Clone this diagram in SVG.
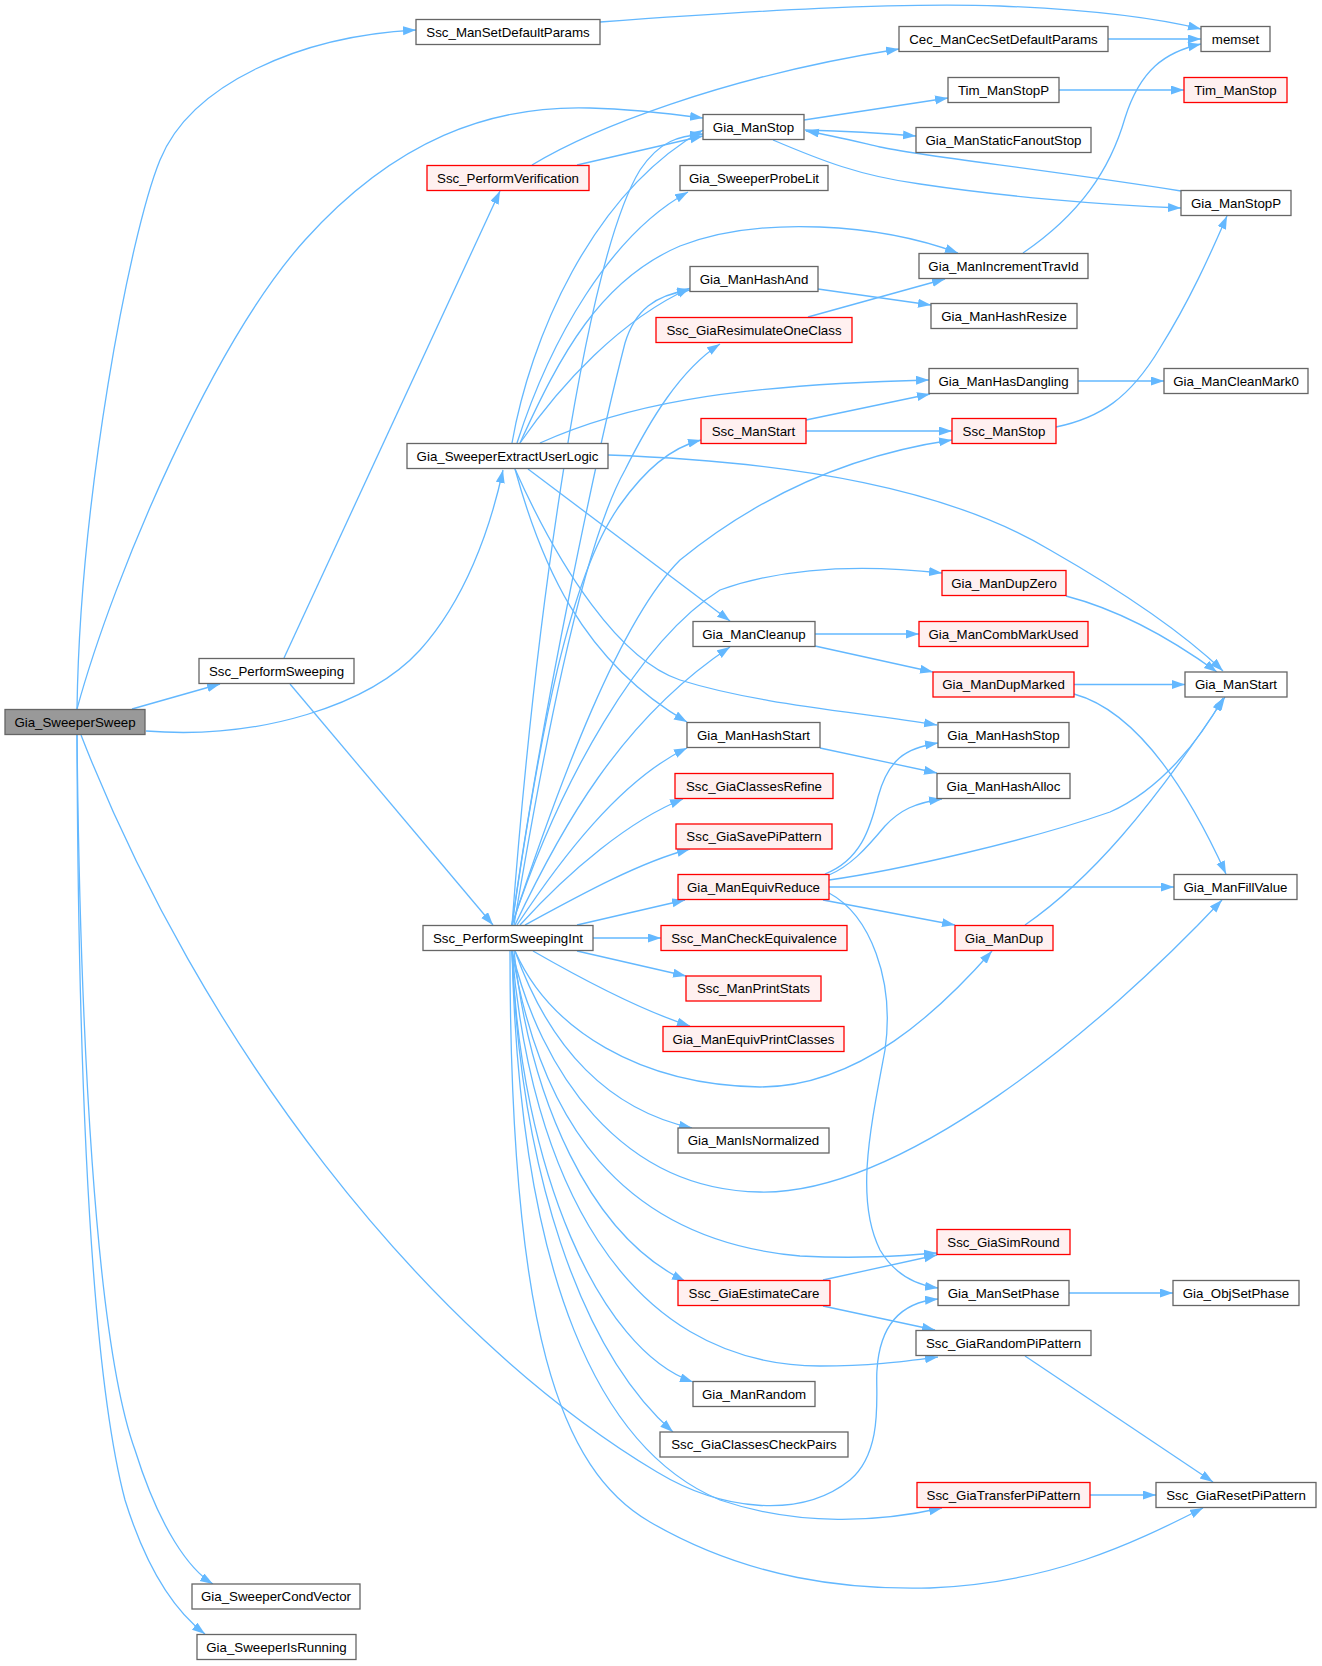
<svg xmlns="http://www.w3.org/2000/svg" width="1322" height="1666" viewBox="0 0 1322 1666">
<style>
rect{stroke-width:1.3}
.n rect{fill:#ffffff;stroke:#666666}
.r rect{fill:#fff0f0;stroke:#ff0000}
.root rect{fill:#999999;stroke:#666666}
text{font-family:"Liberation Sans",Arial,sans-serif;font-size:13.3px;fill:#000;text-anchor:middle}
#edges path{fill:none;stroke:#63b8ff;stroke-width:1.3;marker-end:url(#a)}
</style>
<defs>
<marker id="a" markerWidth="14" markerHeight="10" refX="13" refY="4.5" orient="auto" markerUnits="userSpaceOnUse"><path d="M0,0L13,4.5L0,9z" fill="#63b8ff"/></marker>
</defs>
<rect width="1322" height="1666" fill="#ffffff"/>
<g id="edges">
<path d="M77,709 C80,500 129,236 160,160 C191,84 300,36 416,30"/>
<path d="M77,709 C115,570 215,340 305,240 C395,140 490,105 590,108 C630,109 665,113 703,118"/>
<path d="M132,709 L220,684"/>
<path d="M146,731 C260,740 370,705 420,650 C465,600 490,530 503,470"/>
<path d="M77,735 C80,1030 95,1340 135,1450 C160,1530 190,1570 213,1584"/>
<path d="M77,735 C78,1040 88,1360 125,1500 C150,1580 180,1615 205,1634"/>
<path d="M81,735 C200,1040 420,1330 657,1472 C720,1510 800,1520 850,1480 C885,1450 875,1390 877,1370 C880,1320 905,1302 938,1299"/>
<path d="M284,658 L500,191"/>
<path d="M290,684 L493,925"/>
<path d="M532,165 C590,130 720,77 899,49"/>
<path d="M577,165 L703,136"/>
<path d="M600,22 C750,11 900,2 1000,6 C1100,10 1160,19 1201,29"/>
<path d="M1108,39 L1201,39"/>
<path d="M1023,253 C1080,214 1110,170 1125,118 C1140,70 1165,52 1201,44"/>
<path d="M1059,90 L1184,90"/>
<path d="M804,120 L948,98"/>
<path d="M805,130 C840,131 880,133 916,136"/>
<path d="M1181,191 C1050,170 920,156 880,147 C850,140 830,135 806,131"/>
<path d="M773,140 C820,160 860,176 920,184 C1000,196 1100,205 1181,208"/>
<path d="M818,289 L931,305"/>
<path d="M808,317 L945,279"/>
<path d="M1078,381 L1164,381"/>
<path d="M806,420 L930,394"/>
<path d="M806,431 L952,431"/>
<path d="M1056,427 C1100,418 1130,398 1160,348 C1190,300 1210,255 1227,216"/>
<path d="M512,443 C530,340 590,195 703,130"/>
<path d="M517,443 C550,340 610,235 688,192"/>
<path d="M520,443 C560,355 600,280 680,246 C760,215 880,224 958,253"/>
<path d="M520,443 C560,385 620,320 690,288"/>
<path d="M540,443 C620,407 720,385 929,380"/>
<path d="M608,455 C800,462 950,490 1050,550 C1120,590 1180,630 1223,671"/>
<path d="M528,469 L730,621"/>
<path d="M515,469 C540,560 580,660 687,722"/>
<path d="M515,469 C560,570 620,660 680,680 C760,705 860,712 937,725"/>
<path d="M512,925 C535,620 585,260 640,170 C660,140 680,136 703,134"/>
<path d="M512,925 C540,720 600,440 625,343 C635,310 655,295 690,290"/>
<path d="M514,925 C540,770 580,550 625,470 C650,420 680,370 720,344"/>
<path d="M512,925 C540,730 570,575 620,505 C645,470 670,448 701,440"/>
<path d="M512,925 C560,780 620,620 680,560 C760,495 850,455 952,440"/>
<path d="M512,925 C560,780 640,640 720,590 C790,565 870,565 942,573"/>
<path d="M515,925 C560,830 620,720 730,647"/>
<path d="M517,925 C560,860 620,780 687,748"/>
<path d="M520,925 C570,870 630,820 683,799"/>
<path d="M525,925 C580,895 640,862 690,849"/>
<path d="M577,925 L685,900"/>
<path d="M593,938 L661,938"/>
<path d="M577,951 L686,976"/>
<path d="M533,951 C580,978 640,1010 690,1026"/>
<path d="M515,951 C550,1030 640,1085 760,1087 C860,1087 940,1010 992,951"/>
<path d="M515,951 C550,1050 610,1110 692,1128"/>
<path d="M512,951 C540,1070 620,1190 760,1192 C900,1195 1100,1030 1222,900"/>
<path d="M512,951 C540,1120 620,1240 800,1256 C860,1259 900,1256 937,1253"/>
<path d="M514,951 C530,1100 590,1235 685,1281"/>
<path d="M512,951 C530,1170 620,1365 820,1366 C870,1366 900,1362 938,1357"/>
<path d="M512,951 C520,1170 600,1350 693,1382"/>
<path d="M512,951 C520,1170 580,1350 673,1432"/>
<path d="M512,951 C520,1280 600,1450 720,1500 C800,1527 880,1522 942,1508"/>
<path d="M510,951 C510,1330 560,1470 650,1522 C750,1580 850,1590 930,1588 C1050,1583 1130,1545 1203,1508"/>
<path d="M825,874 C860,860 870,830 878,797 C888,760 905,748 938,743"/>
<path d="M829,875 C850,866 865,850 885,826 C900,810 915,803 942,799"/>
<path d="M829,880 C900,870 1030,840 1110,812 C1160,790 1200,740 1223,698"/>
<path d="M829,887 L1174,887"/>
<path d="M823,900 L955,925"/>
<path d="M829,893 C870,915 895,980 885,1050 C870,1130 855,1200 880,1250 C895,1275 915,1285 938,1288"/>
<path d="M815,634 L919,634"/>
<path d="M815,646 L933,672"/>
<path d="M1066,596 C1120,610 1170,638 1217,672"/>
<path d="M1074,684.5 L1185,684.5"/>
<path d="M1074,694 C1140,712 1190,795 1226,874"/>
<path d="M820,748 L937,773"/>
<path d="M1025,925 C1090,880 1150,810 1225,697"/>
<path d="M823,1280 L937,1255"/>
<path d="M823,1306 L935,1330"/>
<path d="M1069,1293 L1173,1293"/>
<path d="M1025,1356 L1213,1482"/>
<path d="M1090,1495 L1156,1495"/>
</g>
<g id="n0" class="root"><rect x="5" y="709.5" width="140" height="25"/><text x="75" y="726.5">Gia_SweeperSweep</text></g>
<g id="n1" class="n"><rect x="416" y="19.5" width="184" height="25"/><text x="508" y="36.5">Ssc_ManSetDefaultParams</text></g>
<g id="n2" class="n"><rect x="1201" y="26.5" width="69" height="25"/><text x="1235.5" y="43.5">memset</text></g>
<g id="n3" class="n"><rect x="703" y="114.5" width="101" height="25"/><text x="753.5" y="131.5">Gia_ManStop</text></g>
<g id="n4" class="n"><rect x="948" y="77.5" width="111" height="25"/><text x="1003.5" y="94.5">Tim_ManStopP</text></g>
<g id="n5" class="r"><rect x="1184" y="77.5" width="103" height="25"/><text x="1235.5" y="94.5">Tim_ManStop</text></g>
<g id="n6" class="n"><rect x="916" y="127.5" width="175" height="25"/><text x="1003.5" y="144.5">Gia_ManStaticFanoutStop</text></g>
<g id="n7" class="n"><rect x="1181" y="190.5" width="110" height="25"/><text x="1236" y="207.5">Gia_ManStopP</text></g>
<g id="n8" class="n"><rect x="199" y="658.5" width="155" height="25"/><text x="276.5" y="675.5">Ssc_PerformSweeping</text></g>
<g id="n9" class="r"><rect x="427" y="165.5" width="162" height="25"/><text x="508" y="182.5">Ssc_PerformVerification</text></g>
<g id="n10" class="n"><rect x="899" y="26.5" width="209" height="25"/><text x="1003.5" y="43.5">Cec_ManCecSetDefaultParams</text></g>
<g id="n11" class="n"><rect x="423" y="925.5" width="170" height="25"/><text x="508" y="942.5">Ssc_PerformSweepingInt</text></g>
<g id="n12" class="n"><rect x="407" y="443.5" width="201" height="25"/><text x="507.5" y="460.5">Gia_SweeperExtractUserLogic</text></g>
<g id="n13" class="n"><rect x="680" y="165.5" width="148" height="25"/><text x="754" y="182.5">Gia_SweeperProbeLit</text></g>
<g id="n14" class="n"><rect x="690" y="266.5" width="128" height="25"/><text x="754" y="283.5">Gia_ManHashAnd</text></g>
<g id="n15" class="n"><rect x="931" y="303.5" width="146" height="25"/><text x="1004" y="320.5">Gia_ManHashResize</text></g>
<g id="n16" class="r"><rect x="656" y="317.5" width="196" height="25"/><text x="754" y="334.5">Ssc_GiaResimulateOneClass</text></g>
<g id="n17" class="n"><rect x="919" y="253.5" width="169" height="25"/><text x="1003.5" y="270.5">Gia_ManIncrementTravId</text></g>
<g id="n18" class="r"><rect x="701" y="418.5" width="105" height="25"/><text x="753.5" y="435.5">Ssc_ManStart</text></g>
<g id="n19" class="n"><rect x="929" y="368.5" width="149" height="25"/><text x="1003.5" y="385.5">Gia_ManHasDangling</text></g>
<g id="n20" class="n"><rect x="1164" y="368.5" width="144" height="25"/><text x="1236" y="385.5">Gia_ManCleanMark0</text></g>
<g id="n21" class="r"><rect x="952" y="418.5" width="104" height="25"/><text x="1004" y="435.5">Ssc_ManStop</text></g>
<g id="n22" class="r"><rect x="942" y="570.5" width="124" height="25"/><text x="1004" y="587.5">Gia_ManDupZero</text></g>
<g id="n23" class="n"><rect x="693" y="621.5" width="122" height="25"/><text x="754" y="638.5">Gia_ManCleanup</text></g>
<g id="n24" class="r"><rect x="919" y="621.5" width="169" height="25"/><text x="1003.5" y="638.5">Gia_ManCombMarkUsed</text></g>
<g id="n25" class="r"><rect x="933" y="672" width="141" height="25"/><text x="1003.5" y="689">Gia_ManDupMarked</text></g>
<g id="n26" class="n"><rect x="1185" y="672" width="102" height="25"/><text x="1236" y="689">Gia_ManStart</text></g>
<g id="n27" class="n"><rect x="687" y="722.5" width="133" height="25"/><text x="753.5" y="739.5">Gia_ManHashStart</text></g>
<g id="n28" class="n"><rect x="938" y="722.5" width="131" height="25"/><text x="1003.5" y="739.5">Gia_ManHashStop</text></g>
<g id="n29" class="n"><rect x="937" y="773.5" width="133" height="25"/><text x="1003.5" y="790.5">Gia_ManHashAlloc</text></g>
<g id="n30" class="r"><rect x="675" y="773.5" width="158" height="25"/><text x="754" y="790.5">Ssc_GiaClassesRefine</text></g>
<g id="n31" class="r"><rect x="676" y="824" width="156" height="25"/><text x="754" y="841">Ssc_GiaSavePiPattern</text></g>
<g id="n32" class="r"><rect x="678" y="874.5" width="151" height="25"/><text x="753.5" y="891.5">Gia_ManEquivReduce</text></g>
<g id="n33" class="n"><rect x="1174" y="874.5" width="123" height="25"/><text x="1235.5" y="891.5">Gia_ManFillValue</text></g>
<g id="n34" class="r"><rect x="661" y="925.5" width="186" height="25"/><text x="754" y="942.5">Ssc_ManCheckEquivalence</text></g>
<g id="n35" class="r"><rect x="955" y="925.5" width="98" height="25"/><text x="1004" y="942.5">Gia_ManDup</text></g>
<g id="n36" class="r"><rect x="686" y="976" width="135" height="25"/><text x="753.5" y="993">Ssc_ManPrintStats</text></g>
<g id="n37" class="r"><rect x="663" y="1026.5" width="181" height="25"/><text x="753.5" y="1043.5">Gia_ManEquivPrintClasses</text></g>
<g id="n38" class="n"><rect x="678" y="1128" width="151" height="25"/><text x="753.5" y="1145">Gia_ManIsNormalized</text></g>
<g id="n39" class="r"><rect x="937" y="1229.5" width="133" height="25"/><text x="1003.5" y="1246.5">Ssc_GiaSimRound</text></g>
<g id="n40" class="r"><rect x="678" y="1280.5" width="152" height="25"/><text x="754" y="1297.5">Ssc_GiaEstimateCare</text></g>
<g id="n41" class="n"><rect x="938" y="1280.5" width="131" height="25"/><text x="1003.5" y="1297.5">Gia_ManSetPhase</text></g>
<g id="n42" class="n"><rect x="1173" y="1280.5" width="126" height="25"/><text x="1236" y="1297.5">Gia_ObjSetPhase</text></g>
<g id="n43" class="n"><rect x="916" y="1330.5" width="175" height="25"/><text x="1003.5" y="1347.5">Ssc_GiaRandomPiPattern</text></g>
<g id="n44" class="n"><rect x="693" y="1381.5" width="122" height="25"/><text x="754" y="1398.5">Gia_ManRandom</text></g>
<g id="n45" class="n"><rect x="660" y="1432" width="188" height="25"/><text x="754" y="1449">Ssc_GiaClassesCheckPairs</text></g>
<g id="n46" class="r"><rect x="917" y="1482.5" width="173" height="25"/><text x="1003.5" y="1499.5">Ssc_GiaTransferPiPattern</text></g>
<g id="n47" class="n"><rect x="1156" y="1482.5" width="160" height="25"/><text x="1236" y="1499.5">Ssc_GiaResetPiPattern</text></g>
<g id="n48" class="n"><rect x="192" y="1584" width="168" height="25"/><text x="276" y="1601">Gia_SweeperCondVector</text></g>
<g id="n49" class="n"><rect x="197" y="1634.5" width="159" height="25"/><text x="276.5" y="1651.5">Gia_SweeperIsRunning</text></g>
</svg>
